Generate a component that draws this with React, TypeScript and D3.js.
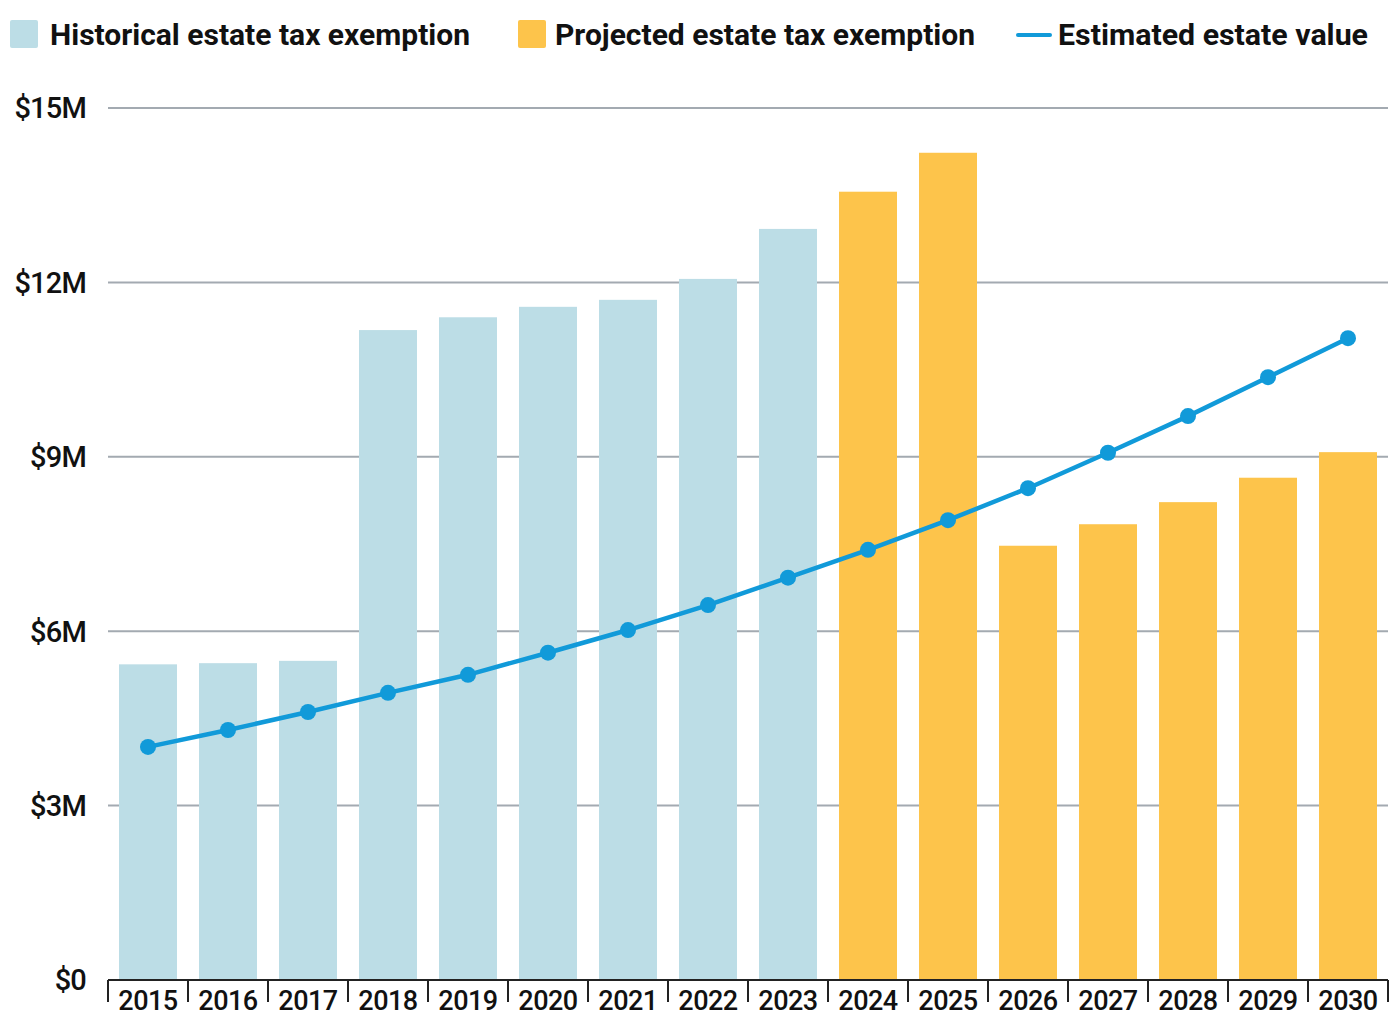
import { useEffect, useRef } from 'react';
import * as d3 from 'd3';

const years = ['2015', '2016', '2017', '2018', '2019', '2020', '2021', '2022', '2023', '2024', '2025', '2026', '2027', '2028', '2029', '2030'];
// exemption in $M; first 9 are historical, rest projected
const exemption = [5.43, 5.45, 5.49, 11.18, 11.4, 11.58, 11.7, 12.06, 12.92, 13.56, 14.23, 7.47, 7.84, 8.22, 8.64, 9.08];
const historicalCount = 9;
const estateValue = [4.01, 4.3, 4.61, 4.94, 5.25, 5.63, 6.02, 6.45, 6.92, 7.4, 7.91, 8.46, 9.07, 9.7, 10.37, 11.04];
const yTicks = [0, 3, 6, 9, 12, 15];

const legendItems = [
  { label: 'Historical estate tax exemption', kind: 'hist' },
  { label: 'Projected estate tax exemption', kind: 'proj' },
  { label: 'Estimated estate value', kind: 'line' },
];

const HIST = '#bcdde6';
const PROJ = '#fdc44b';
const LINE = '#119ad9';
const GRID = '#a3aab1';

export default function App() {
  const svgRef = useRef<SVGSVGElement>(null);

  useEffect(() => {
    if (!svgRef.current) return;
    const svg = d3.select(svgRef.current);
    svg.selectAll('*').remove();

    const left = 108;
    const right = 1388;
    const top = 108;
    const bottom = 980;
    const font = 'Roboto, "Liberation Sans", sans-serif';

    const x = d3.scaleBand().domain(years).range([left, right]).paddingInner(0.275).paddingOuter(0.1375);
    const y = d3.scaleLinear().domain([0, 15]).range([bottom, top]);

    // grid lines
    svg.append('g')
      .selectAll('line')
      .data(yTicks.filter(d => d > 0))
      .join('line')
      .attr('x1', left)
      .attr('x2', right)
      .attr('y1', d => y(d))
      .attr('y2', d => y(d))
      .attr('stroke', GRID)
      .attr('stroke-width', 2);

    // y labels
    svg.append('g')
      .selectAll('text')
      .data(yTicks)
      .join('text')
      .attr('x', 86)
      .attr('y', d => y(d))
      .attr('dy', '0.36em')
      .attr('text-anchor', 'end')
      .style('font-family', font)
      .style('font-size', '29px')
      .style('font-weight', 500)
      .style('letter-spacing', '-0.8px')
      .attr('fill', '#111')
      .text(d => `$${d}${d === 0 ? '' : 'M'}`);

    // bars
    svg.append('g')
      .selectAll('rect')
      .data(exemption)
      .join('rect')
      .attr('x', (_, i) => x(years[i]) || 0)
      .attr('width', x.bandwidth())
      .attr('y', d => y(d))
      .attr('height', d => bottom - y(d))
      .attr('fill', (_, i) => (i < historicalCount ? HIST : PROJ));

    // bottom axis with ticks at band boundaries
    const step = x.step();
    const axis = svg.append('g');
    axis.append('line')
      .attr('x1', left)
      .attr('x2', right)
      .attr('y1', bottom)
      .attr('y2', bottom)
      .attr('stroke', '#222')
      .attr('stroke-width', 2);
    axis.selectAll('line.tick')
      .data(d3.range(years.length + 1))
      .join('line')
      .attr('class', 'tick')
      .attr('x1', i => left + i * step)
      .attr('x2', i => left + i * step)
      .attr('y1', bottom)
      .attr('y2', 1002)
      .attr('stroke', '#222')
      .attr('stroke-width', 2);
    axis.selectAll('text')
      .data(years)
      .join('text')
      .attr('x', d => (x(d) || 0) + x.bandwidth() / 2)
      .attr('y', 1010)
      .attr('text-anchor', 'middle')
      .style('font-family', font)
      .style('font-size', '27px')
      .style('font-weight', 500)
      .style('letter-spacing', '-0.5px')
      .attr('fill', '#111')
      .text(d => d);

    // estate value line
    const line = d3.line<number>()
      .x((_, i) => (x(years[i]) || 0) + x.bandwidth() / 2)
      .y(d => y(d));
    svg.append('path')
      .datum(estateValue)
      .attr('d', line)
      .attr('fill', 'none')
      .attr('stroke', LINE)
      .attr('stroke-width', 4.5);
    svg.append('g')
      .selectAll('circle')
      .data(estateValue)
      .join('circle')
      .attr('cx', (_, i) => (x(years[i]) || 0) + x.bandwidth() / 2)
      .attr('cy', d => y(d))
      .attr('r', 8)
      .attr('fill', LINE);

    // legend
    const legendPos = [
      { sx: 10, tx: 50, w: 420 },
      { sx: 518, tx: 555, w: 420 },
      { sx: 1018, tx: 1058, w: 310 },
    ];
    const lg = svg.append('g');
    legendItems.forEach((item, i) => {
      const p = legendPos[i];
      if (item.kind === 'line') {
        lg.append('line')
          .attr('x1', p.sx)
          .attr('x2', p.sx + 32)
          .attr('y1', 35)
          .attr('y2', 35)
          .attr('stroke', LINE)
          .attr('stroke-width', 4)
          .attr('stroke-linecap', 'round');
      } else {
        lg.append('rect')
          .attr('x', p.sx)
          .attr('y', 20)
          .attr('width', 28)
          .attr('height', 28)
          .attr('rx', 2)
          .attr('fill', item.kind === 'hist' ? HIST : PROJ);
      }
      lg.append('text')
        .attr('x', p.tx)
        .attr('y', 45)
        .attr('textLength', p.w)
        .attr('lengthAdjust', 'spacingAndGlyphs')
        .style('font-family', font)
        .style('font-size', '29px')
        .style('font-weight', 700)
        .attr('fill', '#111')
        .text(item.label);
    });
  }, []);

  return (
    <svg
      ref={svgRef}
      width={1400}
      height={1034}
      style={{ position: 'absolute', top: 0, left: 0, background: '#fff' }}
    />
  );
}
